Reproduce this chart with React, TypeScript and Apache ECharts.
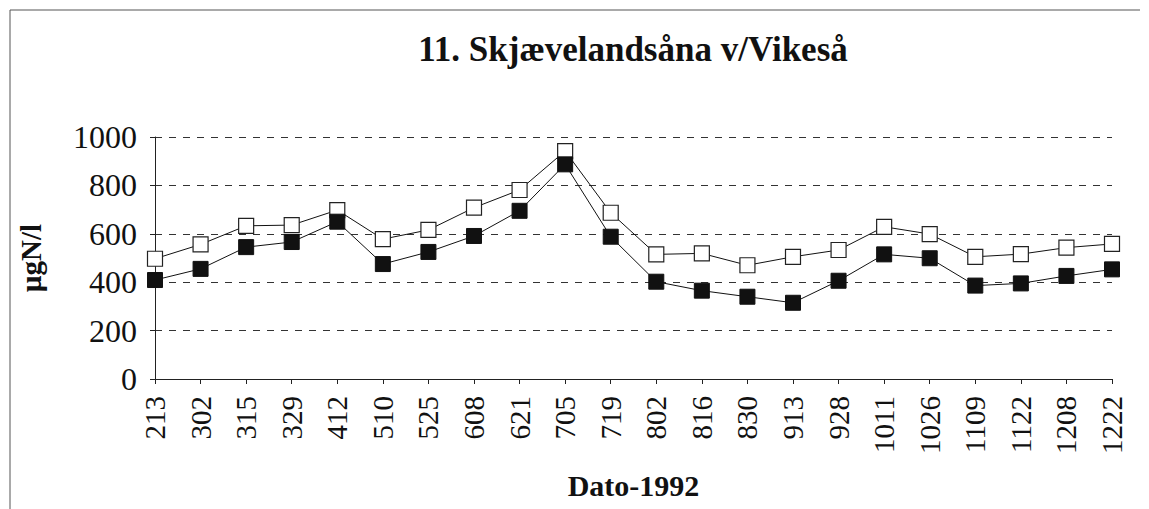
import React, { useEffect, useRef } from "react";
import * as echarts from "echarts";

const categories = ["213", "302", "315", "329", "412", "510", "525", "608", "621", "705", "719", "802", "816", "830", "913", "928", "1011", "1026", "1109", "1122", "1208", "1222"];
const whiteSeries = [497, 556, 633, 636, 698, 578, 616, 708, 781, 942, 687, 515, 519, 470, 505, 533, 629, 599, 505, 516, 543, 558];
const blackSeries = [409, 455, 545, 566, 650, 475, 525, 591, 695, 887, 588, 402, 365, 340, 315, 406, 515, 499, 386, 395, 426, 453];
const yTicks = { min: 0, max: 1000, interval: 200 };

const serif = "Liberation Serif";

export default function App() {
  const ref = useRef<HTMLDivElement>(null);
  useEffect(() => {
    if (!ref.current) return;
    const chart = echarts.init(ref.current, null, { renderer: "svg" });
    chart.setOption({
      animation: false,
      backgroundColor: "#ffffff",
      title: {
        text: "11. Skjævelandsåna v/Vikeså",
        left: 628,
        top: 27,
        textAlign: "center",
        textStyle: { fontFamily: serif, fontWeight: "bold", fontSize: 35, color: "#111" },
      },
      graphic: [
        { type: "line", shape: { x1: 10, y1: 10, x2: 10, y2: 509 }, style: { stroke: "#555", lineWidth: 1 } },
        { type: "line", shape: { x1: 10, y1: 10, x2: 1140, y2: 10 }, style: { stroke: "#555", lineWidth: 1 } },
      ],
      grid: { left: 155, right: 37, top: 137, bottom: 130, containLabel: false },
      xAxis: {
        type: "category",
        data: categories,
        boundaryGap: false,
        name: "Dato-1992",
        nameLocation: "middle",
        nameGap: 91,
        nameTextStyle: { fontFamily: serif, fontWeight: "bold", fontSize: 30, color: "#111" },
        axisLine: { lineStyle: { color: "#222", width: 1 } },
        axisTick: { show: true, alignWithLabel: true, length: 5, lineStyle: { color: "#222" } },
        axisLabel: { rotate: 90, fontFamily: serif, fontSize: 29, color: "#111", margin: 17, interval: 0 },
        splitLine: { show: false },
      },
      yAxis: {
        type: "value",
        min: yTicks.min,
        max: yTicks.max,
        interval: yTicks.interval,
        name: "µgN/l",
        nameLocation: "middle",
        nameGap: 110,
        nameRotate: 90,
        nameTextStyle: { fontFamily: serif, fontWeight: "bold", fontSize: 29, color: "#111" },
        axisLine: { show: true, lineStyle: { color: "#222", width: 1 } },
        axisTick: { show: true, length: 5, lineStyle: { color: "#222" } },
        axisLabel: { fontFamily: serif, fontSize: 32, color: "#111", margin: 18, formatter: (v: number) => String(v) },
        splitLine: { show: true, lineStyle: { color: "#333", type: [7, 7], width: 1 } },
      },
      series: [
        {
          type: "line",
          data: whiteSeries,
          symbol: "rect",
          symbolSize: 15,
          lineStyle: { color: "#111", width: 1 },
          itemStyle: { color: "#ffffff", borderColor: "#222", borderWidth: 1.2 },
          z: 3,
        },
        {
          type: "line",
          data: blackSeries,
          symbol: "rect",
          symbolSize: 15,
          lineStyle: { color: "#111", width: 1 },
          itemStyle: { color: "#111111", borderColor: "#111", borderWidth: 1 },
          z: 4,
        },
      ],
    });
    return () => chart.dispose();
  }, []);
  return (
    <div
      ref={ref}
      style={{ position: "absolute", left: 0, top: 0, width: 1149, height: 509 }}
    />
  );
}
